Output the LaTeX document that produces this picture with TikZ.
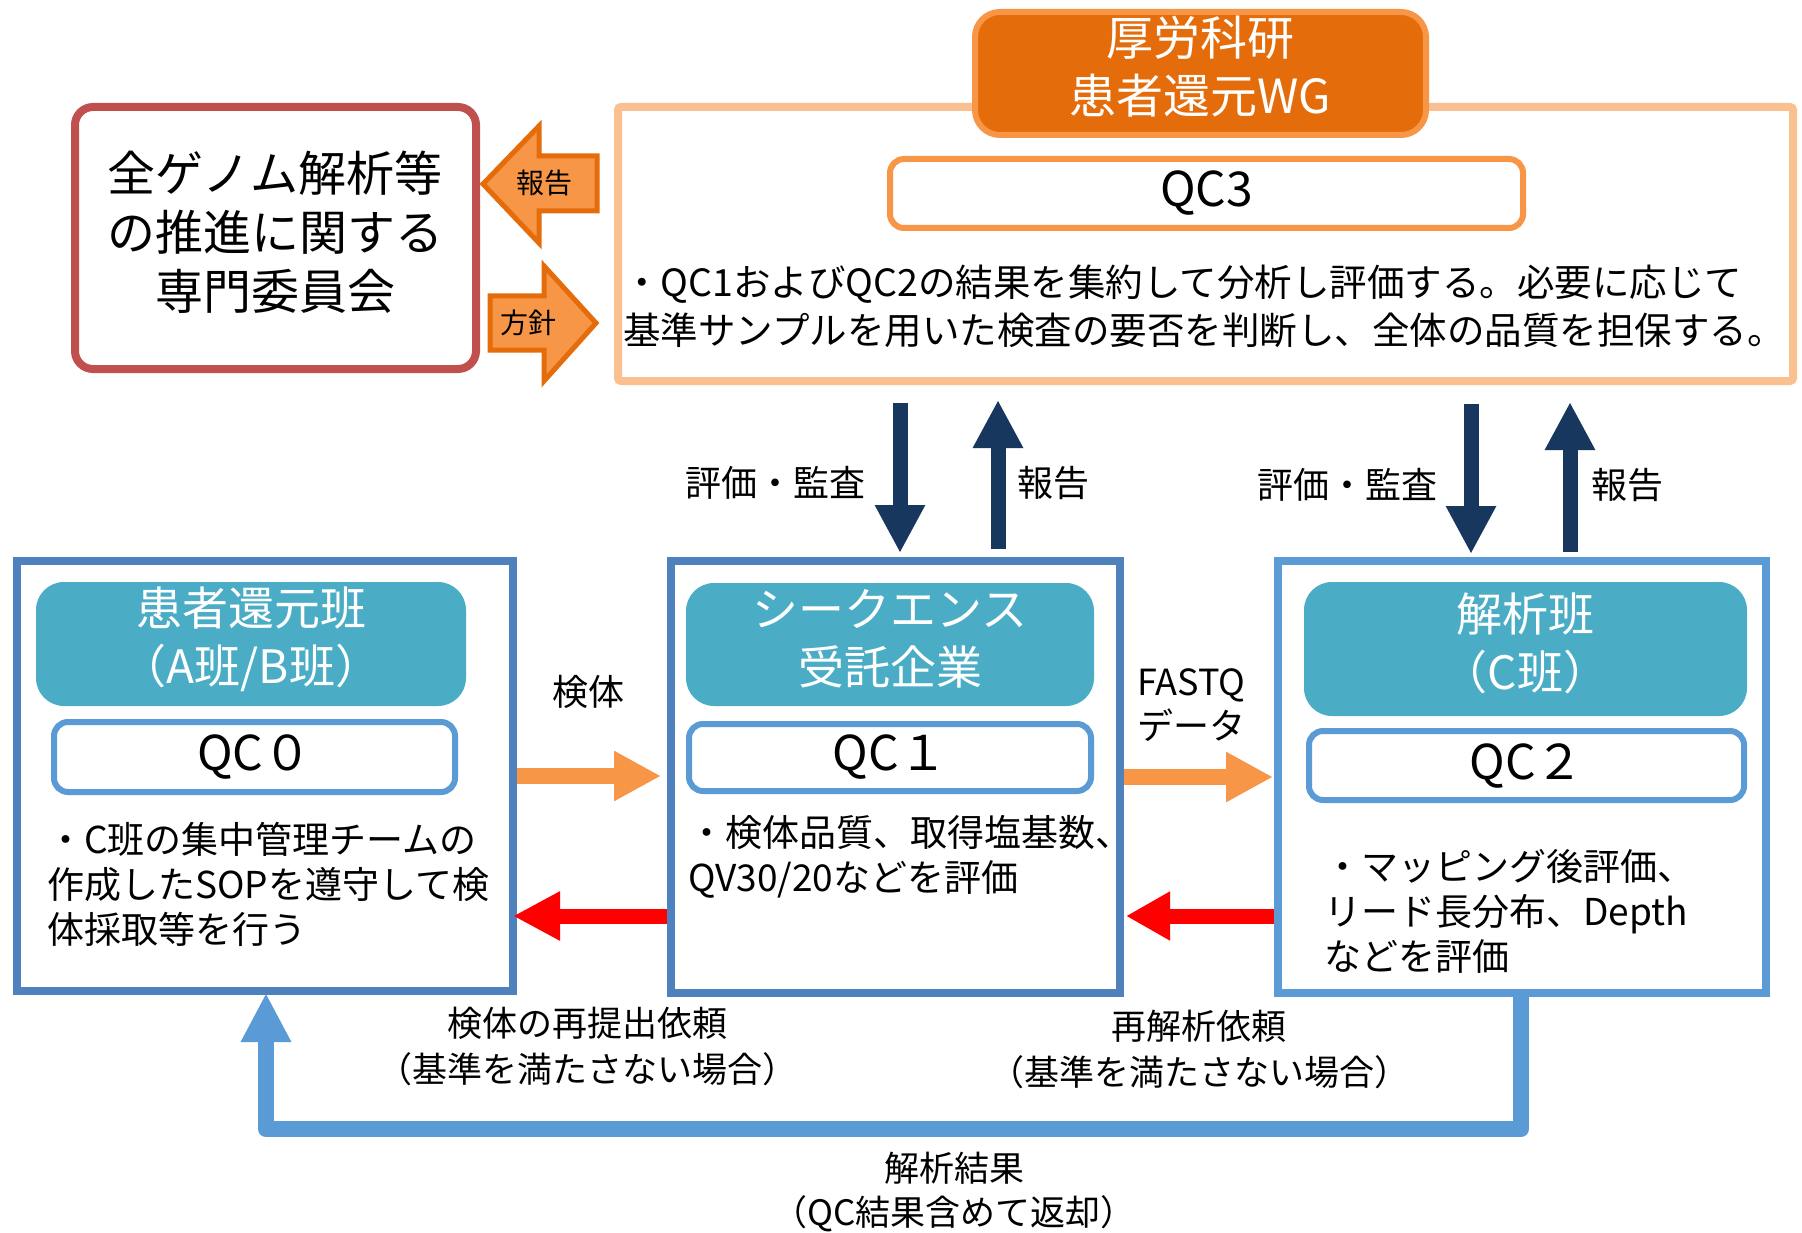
\documentclass[tikz,border=0pt]{standalone}
\usepackage{fontspec}
\setmainfont{Noto Sans CJK JP}
\usetikzlibrary{arrows.meta}
\definecolor{redbox}{HTML}{C0504D}
\definecolor{orgL}{HTML}{F79646}
\definecolor{orgD}{HTML}{E46C0A}
\definecolor{orgP}{HTML}{FAC090}
\definecolor{cnavy}{HTML}{17375E}
\definecolor{cteal}{HTML}{4BACC6}
\definecolor{blueD}{HTML}{4F81BD}
\definecolor{blueL}{HTML}{5B9BD5}
\definecolor{cred}{HTML}{FF0000}
\begin{document}
\begin{tikzpicture}[x=1pt,y=-1pt,
  bigbox/.style={draw=#1, line width=8pt, fill=white, inner sep=0pt},
  header/.style={fill=cteal, rounded corners=28pt, inner sep=0pt},
  headtext/.style={inner sep=0pt, text=white, align=center, font=\fontsize{46}{58}\selectfont},
  qcbox/.style={draw=blueL, line width=6pt, fill=white, rounded corners=14pt, inner sep=0pt, font=\fontsize{48}{58}\selectfont},
  body/.style={anchor=west, align=left, inner sep=0pt, font=\fontsize{37}{45}\selectfont},
  lbl/.style={inner sep=0pt, align=center, font=\fontsize{36}{46}\selectfont},
  blockarrow/.style={line width=16pt, draw=#1, -{Triangle[length=47pt,width=47pt]}},
  navyarrow/.style={line width=15pt, draw=cnavy, -{Triangle[length=48pt,width=47pt]}},
  sidearrow/.style={fill=orgL, draw=orgD, line width=5pt, line join=miter}
]
\useasboundingbox (0,0) rectangle (1802,1233);
\fill[white] (0,0) rectangle (1802,1233);

% committee box
\node[bigbox=redbox, rounded corners=18pt, minimum width=401pt, minimum height=262pt] (comm) at (275.5,238) {};
\node[font=\fontsize{48}{59}\selectfont, align=center, inner sep=0pt] (commtxt) at (275,232) {全ゲノム解析等\\の推進に関する\\専門委員会};

% QC3 outer box
\node[bigbox=orgP, rounded corners=3pt, minimum width=1175pt, minimum height=274pt] (qc3outer) at (1205.5,244) {};
\node[draw=orgL, fill=orgD, line width=6pt, rounded corners=25pt, minimum width=451pt, minimum height=123pt, inner sep=0pt] (wg) at (1200.5,73.5) {};
\node[headtext, font=\fontsize{47}{58}\selectfont] (wgtxt) at (1200.5,67) {厚労科研\\患者還元WG};
\node[draw=orgL, line width=6pt, fill=white, rounded corners=14pt, minimum width=633pt, minimum height=69pt, inner sep=0pt, font=\fontsize{48}{58}\selectfont] (qc3) at (1206.5,193.5) {QC3};
\node[body, font=\fontsize{37.5}{48}\selectfont] (qc3desc) at (623,306) {・QC1およびQC2の結果を集約して分析し評価する。必要に応じて\\基準サンプルを用いた検査の要否を判断し、全体の品質を担保する。};

% side arrows
\draw[sidearrow] (483,184) -- (539,126) -- (539,156) -- (597,156) -- (597,211) -- (539,211) -- (539,243) -- cycle;
\node[inner sep=0pt, font=\fontsize{28}{32}\selectfont] (rep0) at (544,183) {報告};
\draw[sidearrow] (490,296) -- (544,296) -- (544,266) -- (596,323) -- (544,381) -- (544,350) -- (490,350) -- cycle;
\node[inner sep=0pt, font=\fontsize{28}{32}\selectfont] (pol0) at (528,323) {方針};

% bottom boxes
\node[bigbox=blueD, minimum width=496pt, minimum height=430pt] (boxA) at (265,776) {};
\node[bigbox=blueD, minimum width=449pt, minimum height=432pt] (boxB) at (895.5,777) {};
\node[bigbox=blueL, minimum width=488pt, minimum height=432pt] (boxC) at (1522,777) {};

\node[header, minimum width=430pt, minimum height=124pt] (hA) at (251,644) {};
\node[headtext] (hAt) at (251,639) {患者還元班\\（A班/B班）};
\node[header, minimum width=408pt, minimum height=123pt] (hB) at (890,644.5) {};
\node[headtext] (hBt) at (890,639) {シークエンス\\受託企業};
\node[header, minimum width=443pt, minimum height=134pt] (hC) at (1525.5,649) {};
\node[headtext] (hCt) at (1525.5,643) {解析班\\（C班）};

\node[qcbox, minimum width=401pt, minimum height=70pt] (qcA) at (254.5,757) {QC０};
\node[qcbox, minimum width=402pt, minimum height=67pt] (qcB) at (890,757.5) {QC１};
\node[qcbox, minimum width=435pt, minimum height=69pt] (qcC) at (1526.5,765.5) {QC２};

\node[body] (tA) at (47,884) {・C班の集中管理チームの\\作成したSOPを遵守して検\\体採取等を行う};
\node[body] (tB) at (688,857) {・検体品質、取得塩基数、\\QV30/20などを評価};
\node[body] (tC) at (1324,911) {・マッピング後評価、\\リード長分布、Depth\\などを評価};

% horizontal arrows
\draw[blockarrow=orgL] (boxA.east |- 0,776) -- ([xshift=-6pt]boxB.west |- 0,776);
\draw[blockarrow=orgL] (boxB.east |- 0,777) -- ([xshift=-1pt]boxC.west |- 0,777);
\draw[line width=15pt, draw=cred, -{Triangle[length=47pt,width=46pt]}] (boxB.west |- 0,916) -- ([xshift=-4pt]boxA.east |- 0,916);
\draw[line width=15pt, draw=cred, -{Triangle[length=44pt,width=46pt]}] (boxC.west |- 0,916) -- ([xshift=2pt]boxB.east |- 0,916);
\node[lbl] (lspec) at (588,692) {検体};
\node[lbl, anchor=west, align=left, font=\fontsize{36}{44}\selectfont] (lfastq) at (1137,705) {FASTQ\\データ};

% navy arrows
\draw[navyarrow] ([yshift=-18pt]qc3outer.south -| 900,0) -- ([yshift=4pt]boxB.north -| 900,0);
\draw[navyarrow] ([yshift=8pt]boxB.north -| 998,0) -- ([yshift=-15pt]qc3outer.south -| 998,0);
\draw[navyarrow] ([yshift=-19pt]qc3outer.south -| 1471,0) -- ([yshift=3pt]boxC.north -| 1471,0);
\draw[navyarrow] ([yshift=5pt]boxC.north -| 1570,0) -- ([yshift=-17pt]qc3outer.south -| 1570,0);
\node[lbl] (lev1) at (775,483) {評価・監査};
\node[lbl] (lrp1) at (1053,483) {報告};
\node[lbl] (lev2) at (1347,485) {評価・監査};
\node[lbl] (lrp2) at (1627,485) {報告};

% bottom feedback arrow
\coordinate (fbR) at (1521,1129);
\coordinate (fbL) at (266,1129);
\draw[line width=16pt, draw=blueL, line join=round, -{Triangle[length=49pt,width=47pt]}] (boxC.south -| fbR) -- (fbR) -- (fbL) -- ([yshift=2pt]boxA.south -| fbL);

\node[lbl, font=\fontsize{35}{46}\selectfont] (lresub) at (587,1046) {検体の再提出依頼\\（基準を満たさない場合）};
\node[lbl, font=\fontsize{35}{46}\selectfont] (lreana) at (1199,1049) {再解析依頼\\（基準を満たさない場合）};
\node[lbl, font=\fontsize{35}{44}\selectfont] (lres) at (954,1192) {解析結果\\（QC結果含めて返却）};
\end{tikzpicture}
\end{document}
